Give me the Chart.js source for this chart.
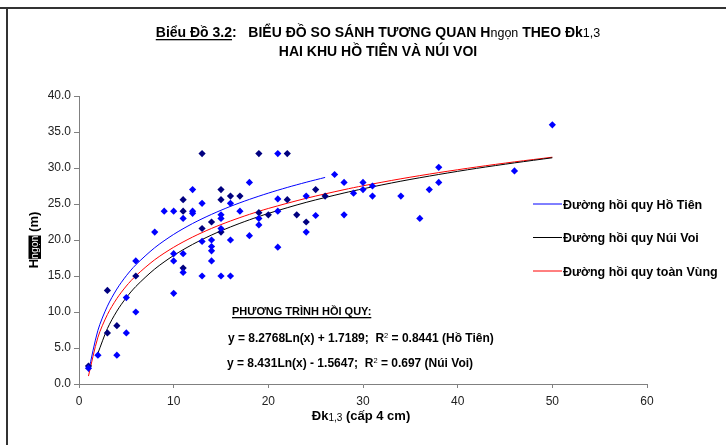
<!DOCTYPE html>
<html>
<head>
<meta charset="utf-8">
<script src="https://cdn.jsdelivr.net/npm/chart.js@4"></script>
<style>
    body { margin: 0; background: #ffffff; }
    #grafico { display: block; }
</style>
</head>
<body>
<canvas id="grafico" width="726" height="445"></canvas>
<script>

// diem do - Ho Tien
var hoTienX = [1,2,4,5,5,6,6,8,9,10,10,10,10,11,11,11,12,12,12,13,13,13,14,14,14,14,15,15,15,15,16,16,16,17,18,18,19,19,21,21,21,21,24,24,25,27,28,28,29,30,30,31,31,34,36,37,38,38,46,50];
var hoTienY = [2.2,4.0,4.0,12.0,7.1,17.1,10.0,21.1,24.0,24.0,18.1,17.1,12.6,23.0,18.1,15.5,27.0,24.0,23.7,25.1,19.8,15.0,20.0,19.1,18.5,17.1,23.5,23.0,21.6,15.0,25.1,20.0,15.0,24.0,28.0,20.6,23.0,22.1,32.0,25.7,24.0,19.0,26.1,21.1,23.4,29.1,28.0,23.5,26.5,28.0,27.0,27.5,26.1,26.1,23.0,27.0,30.1,28.0,29.6,36.0];

// diem do - Nui Voi
var nuiVoiX = [1,3,3,4,6,11,11,11,13,13,14,15,15,15,16,17,19,19,20,22,22,23,24,25,26];
var nuiVoiY = [2.5,13.0,7.1,8.1,15.0,25.6,24.0,16.1,32.0,21.6,22.5,27.0,25.6,21.1,26.1,26.1,32.0,23.8,23.5,32.0,25.6,23.5,22.5,27.0,26.1];

// duong hoi quy (doc tu hinh)
var lineHoTienX = [1,2,3,4,5,6,8,10,12,14,16,18,20,22,24,26];
var lineHoTienY = [1.72,7.46,10.81,13.19,15.04,16.55,18.93,20.78,22.29,23.56,24.67,25.64,26.51,27.30,28.02,28.69];
var lineNuiVoiX = [2,3,4,5,6,8,10,12,14,16,18,20,24,28,30,34,38,42,46,50];
var lineNuiVoiY = [4.28,7.70,10.12,12.00,13.54,15.97,17.85,19.39,20.69,21.81,22.80,23.69,25.23,26.53,27.11,28.17,29.10,29.95,30.71,31.42];
var lineToanVungX = [1,2,3,4,5,6,8,10,12,14,16,18,20,24,28,30,34,38,42,46,50];
var lineToanVungY = [1.10,6.49,9.64,11.87,13.61,15.02,17.26,18.99,20.41,21.61,22.64,23.56,24.38,25.79,26.99,27.53,28.50,29.36,30.14,30.85,31.50];

var legendLabels = ["Đường hồi quy Hồ Tiên", "Đường hồi quy Núi Voi", "Đường hồi quy toàn Vùng"];
var legendColors = ["#0000ff", "#000000", "#ff0000"];

var FONT = "'Liberation Sans', Arial, sans-serif";

function pares(xs, ys) {
    var out = [];
    for (var i = 0; i < xs.length; i++) {
        out.push({ x: xs[i], y: ys[i] });
    }
    return out;
}

// desenha uma linha de texto com trechos de fontes diferentes
// trecho: [texto, tamanho, negrito, dy, sublinhado, fundo]
function larguraTrechos(ctx, trechos) {
    var w = 0;
    for (var i = 0; i < trechos.length; i++) {
        var t = trechos[i];
        ctx.font = (t[2] ? "bold " : "") + t[1] + "px " + FONT;
        w += ctx.measureText(t[0]).width;
    }
    return w;
}

function desenhaTrechos(ctx, trechos, x, y) {
    for (var i = 0; i < trechos.length; i++) {
        var t = trechos[i];
        ctx.font = (t[2] ? "bold " : "") + t[1] + "px " + FONT;
        var w = ctx.measureText(t[0]).width;
        var dy = t[3] || 0;
        if (t[5]) {
            ctx.fillStyle = "#000000";
            ctx.fillRect(x, y + dy - t[1] + 1, w, t[1] + 2);
            ctx.fillStyle = "#ffffff";
        } else {
            ctx.fillStyle = "#000000";
        }
        ctx.fillText(t[0], x, y + dy);
        if (t[4]) {
            ctx.fillStyle = "#000000";
            ctx.fillRect(x, y + 2, w, 1.3);
        }
        x += w;
    }
}

var textosPlugin = {
    id: "textos",
    afterDraw: function (chart) {
        var ctx = chart.ctx;
        ctx.save();
        ctx.textBaseline = "alphabetic";
        ctx.textAlign = "left";

        // moldura
        ctx.fillStyle = "#333333";
        ctx.fillRect(0, 7, 726, 2);
        ctx.fillRect(6, 7, 2, 438);

        // titulo
        var linha1 = [
            ["Biểu Đồ 3.2", 14, true, 0, true],
            [":   BIỂU ĐỒ SO SÁNH TƯƠNG QUAN H", 14, true],
            ["ngọn", 12.5, false],
            [" THEO Đk", 14, true],
            ["1,3", 12.5, false]
        ];
        var linha2 = [["HAI KHU HỒ TIÊN VÀ NÚI VOI", 14, true]];
        var cx = 378;
        desenhaTrechos(ctx, linha1, cx - larguraTrechos(ctx, linha1) / 2, 37);
        desenhaTrechos(ctx, linha2, cx - larguraTrechos(ctx, linha2) / 2, 56);

        // titulo eixo x
        var tituloX = [["Đk", 13, true], ["1,3", 10, false, 1], [" (cấp 4 cm)", 13, true]];
        desenhaTrechos(ctx, tituloX, 361 - larguraTrechos(ctx, tituloX) / 2, 420);

        // titulo eixo y
        var tituloY = [["H", 13, true], ["ngọn", 10.5, false, 0, false, true], [" (m)", 13, true]];
        ctx.save();
        ctx.translate(38, 240);
        ctx.rotate(-Math.PI / 2);
        desenhaTrechos(ctx, tituloY, -larguraTrechos(ctx, tituloY) / 2, 0);
        ctx.restore();

        // equacoes
        desenhaTrechos(ctx, [["PHƯƠNG TRÌNH HỒI QUY:", 11, true, 0, true]], 232, 315);
        desenhaTrechos(ctx, [
            ["y = 8.2768Ln(x) + 1.7189;  R", 12, true],
            ["2", 7.5, false, -4.5],
            [" = 0.8441 (Hồ Tiên)", 12, true]
        ], 228, 342);
        desenhaTrechos(ctx, [
            ["y = 8.431Ln(x) - 1.5647;  R", 12, true],
            ["2", 7.5, false, -4.5],
            [" = 0.697 (Núi Voi)", 12, true]
        ], 227, 367);

        // legenda
        var ys = [204, 237.5, 271];
        for (var i = 0; i < legendLabels.length; i++) {
            ctx.strokeStyle = legendColors[i];
            ctx.lineWidth = 1;
            ctx.beginPath();
            ctx.moveTo(533, ys[i]);
            ctx.lineTo(562, ys[i]);
            ctx.stroke();
            desenhaTrechos(ctx, [[legendLabels[i], 12.5, true]], 563, ys[i] + 4.5);
        }
        ctx.restore();
    }
};

var config = {
    type: "scatter",
    data: {
        datasets: [
            {
                label: "Hồ Tiên",
                data: pares(hoTienX, hoTienY),
                pointStyle: "rectRot",
                pointRadius: 3.6,
                backgroundColor: "#0000ff",
                borderColor: "#0000ff",
                borderWidth: 0
            },
            {
                label: "Núi Voi",
                data: pares(nuiVoiX, nuiVoiY),
                pointStyle: "rectRot",
                pointRadius: 3.6,
                backgroundColor: "#000080",
                borderColor: "#000080",
                borderWidth: 0
            },
            {
                label: legendLabels[0],
                data: pares(lineHoTienX, lineHoTienY),
                showLine: true,
                pointRadius: 0,
                borderColor: legendColors[0],
                borderWidth: 1,
                tension: 0.3
            },
            {
                label: legendLabels[1],
                data: pares(lineNuiVoiX, lineNuiVoiY),
                showLine: true,
                pointRadius: 0,
                borderColor: legendColors[1],
                borderWidth: 1,
                tension: 0.3
            },
            {
                label: legendLabels[2],
                data: pares(lineToanVungX, lineToanVungY),
                showLine: true,
                pointRadius: 0,
                borderColor: legendColors[2],
                borderWidth: 1,
                tension: 0.3
            }
        ]
    },
    options: {
        responsive: false,
        animation: false,
        layout: {
            padding: { left: 0, right: 79, top: 96, bottom: 0 }
        },
        plugins: {
            legend: { display: false },
            title: { display: false },
            tooltip: { enabled: false }
        },
        scales: {
            x: {
                min: 0,
                max: 60,
                ticks: {
                    stepSize: 10,
                    color: "#222222",
                    font: { family: FONT, size: 12 },
                    padding: 6,
                    maxRotation: 0
                },
                grid: { display: true, drawOnChartArea: false, drawTicks: true, tickLength: 4, color: "#808080" },
                border: { display: true, color: "#808080", width: 1 },
                afterFit: function (scale) { scale.height = 61; }
            },
            y: {
                min: 0,
                max: 40,
                ticks: {
                    stepSize: 5,
                    color: "#222222",
                    font: { family: FONT, size: 12 },
                    padding: 3,
                    callback: function (v) { return v.toFixed(1); }
                },
                grid: { display: true, drawOnChartArea: false, drawTicks: true, tickLength: 5, color: "#808080" },
                border: { display: true, color: "#808080", width: 1 },
                afterFit: function (scale) { scale.width = 79; }
            }
        }
    },
    plugins: [textosPlugin]
};

var meuGrafico = new Chart(document.getElementById("grafico"), config);
</script>
</body>
</html>
